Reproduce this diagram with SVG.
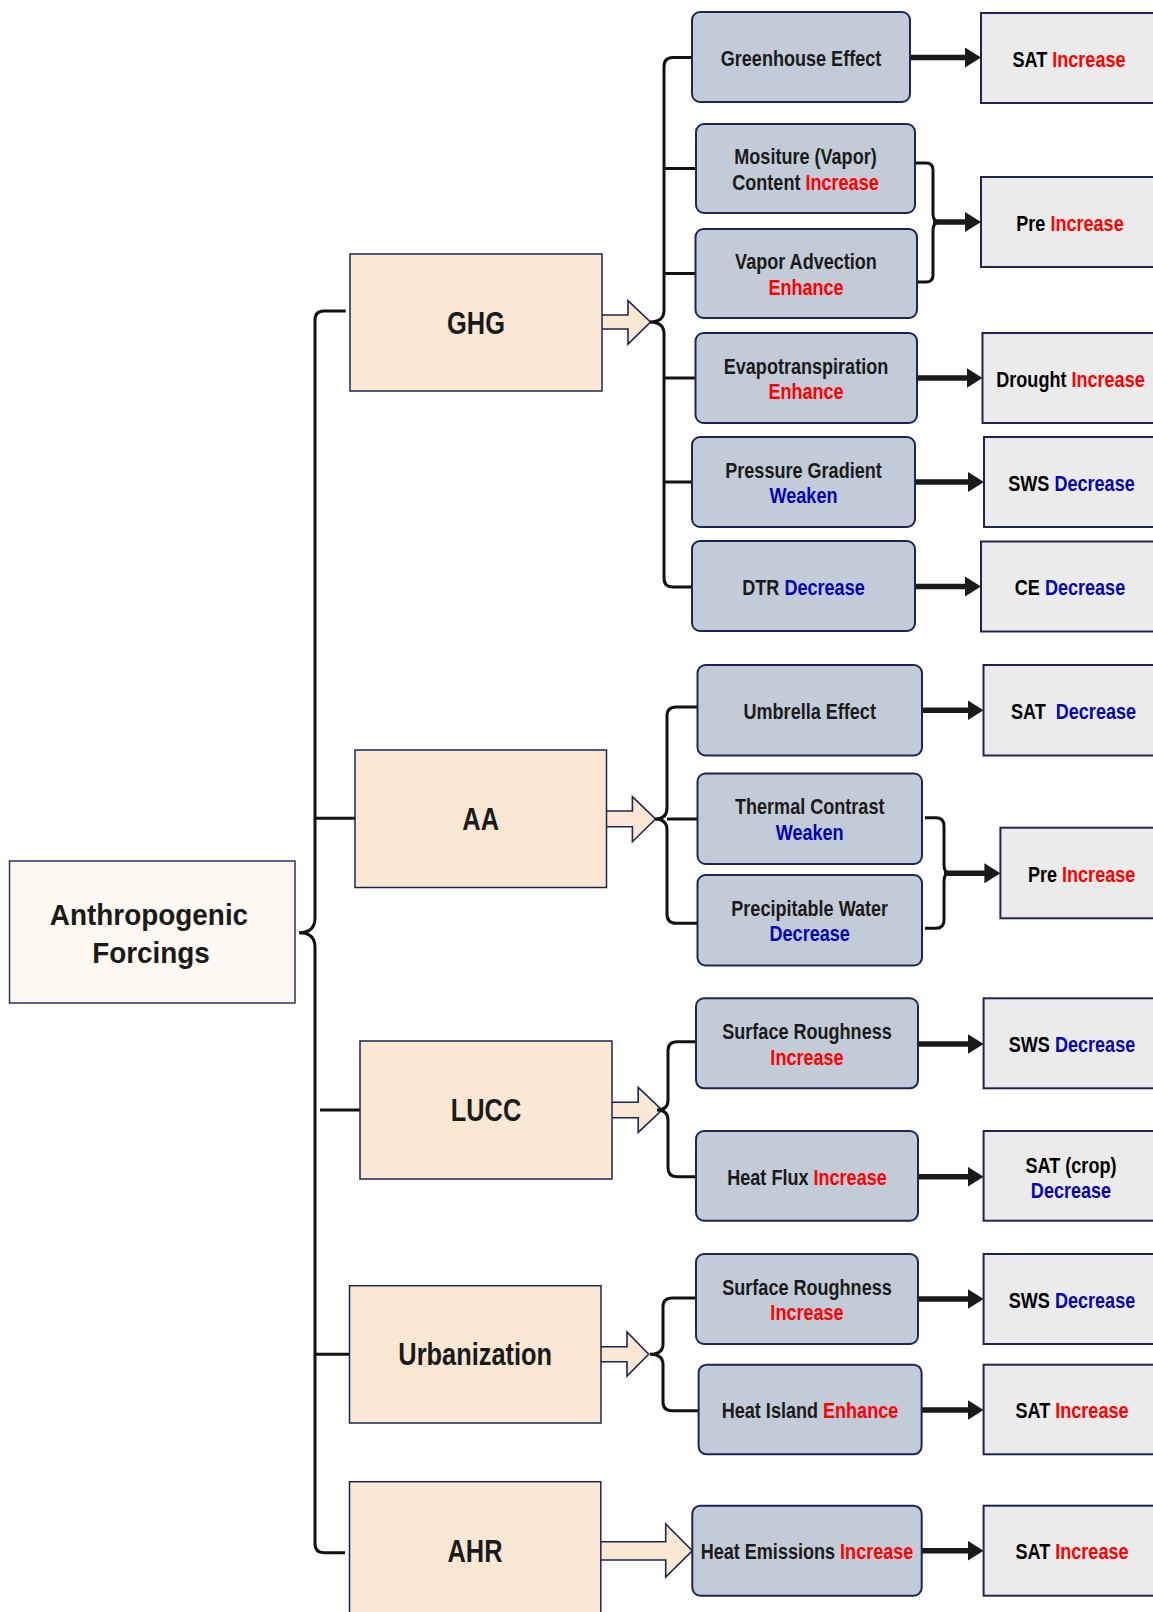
<svg xmlns="http://www.w3.org/2000/svg" width="1153" height="1612" viewBox="0 0 1153 1612">
<defs>
<style>
text{font-family:"Liberation Sans",Arial,sans-serif;font-weight:bold;text-anchor:middle}
.root rect{fill:#fdf8f1;stroke:#2a3268;stroke-width:1.5}
.main rect{fill:#fae8d4;stroke:#1e2552;stroke-width:1.5}
.mid rect{fill:#c2cbd8;stroke:#1e2552;stroke-width:2}
.out rect{fill:#ebebeb;stroke:#1e2552;stroke-width:2}
.lt{font-size:30px;fill:#1a1a1a}
.mt{font-size:31px;fill:#1a1a1a}
.t{font-size:21.5px;fill:#1a1a1a}
.o{font-size:21.5px;fill:#000}
.r{fill:#ff0000}
.b{fill:#0505b0}
.br{fill:none;stroke:#111;stroke-width:3}
.ar{fill:none;stroke:#1a1a1a;stroke-width:5.5;marker-end:url(#ah)}
.blk{fill:#fae8d4;stroke:#1e2552;stroke-width:1.6}
</style>
<marker id="ah" markerUnits="userSpaceOnUse" markerWidth="16" markerHeight="20" refX="2" refY="10" orient="auto"><path d="M0,0 L16,10 L0,20 z" fill="#1a1a1a"/></marker>
</defs>
<rect width="1153" height="1612" fill="#fff"/>

<g id="connectors">
<path class="blk" d="M602,315 H628 V300.7 L650.5,322 L628,344 V329 H602"/>
<path class="blk" d="M606.5,811 H632.4 V796.7 L655.5,819 L632.4,841.7 V826.7 H606.5"/>
<path class="blk" d="M612,1102.3 H638.2 V1087.3 L662,1110 L638.2,1132.3 V1117.7 H612"/>
<path class="blk" d="M601,1346.7 H627 V1332 L648.7,1354.3 L627,1376 V1361.7 H601"/>
<path class="blk" d="M600.7,1541.7 H665.7 V1524 L692.3,1550.7 L665.7,1577 V1560 H600.7"/>

<path class="br" d="M345.7,311 H324 Q315,311 315,320 V918 Q315,932.7 299,932.7 Q315,932.7 315,947 V1544 Q315,1552.7 324,1552.7 H345"/>
<path class="br" d="M315,818.3 H355 M320,1110 H360 M315,1354.3 H349.5"/>

<path class="br" d="M692,57.5 H673 Q664,57.5 664,66.5 V310 Q664,322 650,322 Q664,322 664,334 V578 Q664,587 673,587 H692"/>
<path class="br" d="M664,168.5 H696 M664,273.5 H695.5 M664,378 H695.5 M664,482 H692"/>
<path class="br" d="M915,163 H926 Q933,163 933,170 V214 Q933,222 940,222 Q933,222 933,230 V275 Q933,282 926,282 H917"/>

<path class="br" d="M697.5,707 H676 Q667,707 667,716 V808 Q667,819 655,819 Q667,819 667,830 V914 Q667,923.3 676,923.3 H697.5"/>
<path class="br" d="M667,819 H697.5"/>
<path class="br" d="M925,817.7 H936 Q944,817.7 944,826 V865 Q944,873.3 950,873.3 Q944,873.3 944,881 V920 Q944,928.3 936,928.3 H925"/>

<path class="br" d="M696,1041.7 H677 Q668,1041.7 668,1050.7 V1100 Q668,1110 657,1110 Q668,1110 668,1120 V1168 Q668,1176.7 677,1176.7 H696"/>
<path class="br" d="M696,1298 H672 Q663,1298 663,1307 V1344 Q663,1354.3 650,1354.3 Q663,1354.3 663,1364.6 V1401.7 Q663,1410.7 672,1410.7 H698.6"/>

<path class="ar" d="M910,57.5 H967"/>
<path class="ar" d="M933,222 H967"/>
<path class="ar" d="M917,378 H968.5"/>
<path class="ar" d="M915,482 H970"/>
<path class="ar" d="M915,586.5 H967"/>
<path class="ar" d="M922,710.3 H969.5"/>
<path class="ar" d="M944,873.3 H986.4"/>
<path class="ar" d="M918,1044 H969.6"/>
<path class="ar" d="M918,1176.7 H969.6"/>
<path class="ar" d="M918,1299 H969.6"/>
<path class="ar" d="M921.7,1410 H969.6"/>
<path class="ar" d="M921.7,1550.7 H969.6"/>
</g>

<g id="root" class="root"><rect x="9.5" y="861" width="285.5" height="142"/>
<text class="lt" transform="translate(149,925) scale(.93,1)">Anthropogenic</text>
<text class="lt" transform="translate(151,962.5) scale(.93,1)">Forcings</text></g>

<g id="ghg" class="main"><rect x="350" y="254" width="252" height="137"/><text class="mt" transform="translate(476,333.8) scale(.82,1)">GHG</text></g>
<g id="aa" class="main"><rect x="355" y="750" width="251.5" height="137.5"/><text class="mt" transform="translate(480.7,830.3) scale(.82,1)">AA</text></g>
<g id="lucc" class="main"><rect x="360" y="1041" width="252" height="138"/><text class="mt" transform="translate(486,1121.3) scale(.82,1)">LUCC</text></g>
<g id="urban" class="main"><rect x="349.5" y="1285.7" width="251.5" height="137.3"/><text class="mt" transform="translate(475.2,1365.3) scale(.82,1)">Urbanization</text></g>
<g id="ahr" class="main"><rect x="349.5" y="1481.7" width="251.3" height="160"/><text class="mt" transform="translate(475,1562) scale(.82,1)">AHR</text></g>

<g id="greenhouse" class="mid"><rect x="692" y="12" width="218" height="90" rx="8"/><text class="t" transform="translate(801,65.5) scale(.84,1)">Greenhouse Effect</text></g>
<g id="moisture" class="mid"><rect x="696" y="124" width="219" height="89" rx="8"/><text class="t" transform="translate(805.5,164) scale(.84,1)"><tspan x="0">Mositure (Vapor)</tspan><tspan x="0" dy="26">Content <tspan class="r">Increase</tspan></tspan></text></g>
<g id="advection" class="mid"><rect x="695.5" y="229" width="221.5" height="89" rx="8"/><text class="t" transform="translate(806,269) scale(.84,1)"><tspan x="0">Vapor Advection</tspan><tspan x="0" dy="26" class="r">Enhance</tspan></text></g>
<g id="evapo" class="mid"><rect x="695.5" y="333" width="221.5" height="90" rx="8"/><text class="t" transform="translate(806,373.5) scale(.84,1)"><tspan x="0">Evapotranspiration</tspan><tspan x="0" dy="26" class="r">Enhance</tspan></text></g>
<g id="pressure" class="mid"><rect x="692" y="437" width="223" height="90" rx="8"/><text class="t" transform="translate(803.5,477.5) scale(.84,1)"><tspan x="0">Pressure Gradient</tspan><tspan x="0" dy="26" class="b">Weaken</tspan></text></g>
<g id="dtr" class="mid"><rect x="692" y="541" width="223" height="90" rx="8"/><text class="t" transform="translate(803.5,594.5) scale(.84,1)">DTR <tspan class="b">Decrease</tspan></text></g>
<g id="umbrella" class="mid"><rect x="697.5" y="665" width="224.5" height="90.5" rx="8"/><text class="t" transform="translate(809.7,718.8) scale(.84,1)">Umbrella Effect</text></g>
<g id="thermal" class="mid"><rect x="697.5" y="773.5" width="224.5" height="90.5" rx="8"/><text class="t" transform="translate(809.7,814) scale(.84,1)"><tspan x="0">Thermal Contrast</tspan><tspan x="0" dy="26" class="b">Weaken</tspan></text></g>
<g id="precipwater" class="mid"><rect x="697.5" y="875" width="224.5" height="90.5" rx="8"/><text class="t" transform="translate(809.7,915.5) scale(.84,1)"><tspan x="0">Precipitable Water</tspan><tspan x="0" dy="26" class="b">Decrease</tspan></text></g>
<g id="rough1" class="mid"><rect x="696" y="998.3" width="222" height="90" rx="8"/><text class="t" transform="translate(807,1038.8) scale(.84,1)"><tspan x="0">Surface Roughness</tspan><tspan x="0" dy="26" class="r">Increase</tspan></text></g>
<g id="heatflux" class="mid"><rect x="696" y="1131" width="222" height="89.7" rx="8"/><text class="t" transform="translate(807,1184.5) scale(.84,1)">Heat Flux <tspan class="r">Increase</tspan></text></g>
<g id="rough2" class="mid"><rect x="696" y="1254" width="222" height="90" rx="8"/><text class="t" transform="translate(807,1294.5) scale(.84,1)"><tspan x="0">Surface Roughness</tspan><tspan x="0" dy="26" class="r">Increase</tspan></text></g>
<g id="heatisland" class="mid"><rect x="698.6" y="1364.7" width="223" height="89.6" rx="8"/><text class="t" transform="translate(810,1418) scale(.84,1)">Heat Island <tspan class="r">Enhance</tspan></text></g>
<g id="heatemis" class="mid"><rect x="692.3" y="1505.7" width="229.4" height="90" rx="8"/><text class="t" transform="translate(807,1559.2) scale(.84,1)">Heat Emissions <tspan class="r">Increase</tspan></text></g>

<g id="out1" class="out"><rect x="981" y="13" width="190" height="90"/><text class="o" transform="translate(1069,66.5) scale(.84,1)">SAT <tspan class="r">Increase</tspan></text></g>
<g id="out2" class="out"><rect x="981" y="177" width="190" height="90"/><text class="o" transform="translate(1070,230.5) scale(.84,1)">Pre <tspan class="r">Increase</tspan></text></g>
<g id="out3" class="out"><rect x="982.5" y="333" width="190" height="90"/><text class="o" transform="translate(1070.5,386.5) scale(.84,1)">Drought <tspan class="r">Increase</tspan></text></g>
<g id="out4" class="out"><rect x="984" y="437" width="190" height="90"/><text class="o" transform="translate(1071.5,490.5) scale(.84,1)">SWS <tspan class="b">Decrease</tspan></text></g>
<g id="out5" class="out"><rect x="981" y="541.5" width="190" height="90"/><text class="o" transform="translate(1070,595) scale(.84,1)">CE <tspan class="b">Decrease</tspan></text></g>
<g id="out6" class="out"><rect x="983.5" y="665" width="190" height="90.5"/><text class="o" transform="translate(1073.5,718.8) scale(.84,1)">SAT&#160; <tspan class="b">Decrease</tspan></text></g>
<g id="out7" class="out"><rect x="1000.4" y="827.7" width="190" height="90.6"/><text class="o" transform="translate(1081.6,881.5) scale(.84,1)">Pre <tspan class="r">Increase</tspan></text></g>
<g id="out8" class="out"><rect x="983.6" y="998.3" width="190" height="90"/><text class="o" transform="translate(1072,1052) scale(.84,1)">SWS <tspan class="b">Decrease</tspan></text></g>
<g id="out9" class="out"><rect x="983.6" y="1131" width="190" height="89.7"/><text class="o" transform="translate(1071,1172.7) scale(.84,1)"><tspan x="0">SAT (crop)</tspan><tspan x="0" dy="25" class="b">Decrease</tspan></text></g>
<g id="out10" class="out"><rect x="983.6" y="1254" width="190" height="90"/><text class="o" transform="translate(1072,1307.5) scale(.84,1)">SWS <tspan class="b">Decrease</tspan></text></g>
<g id="out11" class="out"><rect x="983.6" y="1364.7" width="190" height="89.6"/><text class="o" transform="translate(1072,1418) scale(.84,1)">SAT <tspan class="r">Increase</tspan></text></g>
<g id="out12" class="out"><rect x="983.6" y="1505.7" width="190" height="90"/><text class="o" transform="translate(1072,1559) scale(.84,1)">SAT <tspan class="r">Increase</tspan></text></g>
</svg>
